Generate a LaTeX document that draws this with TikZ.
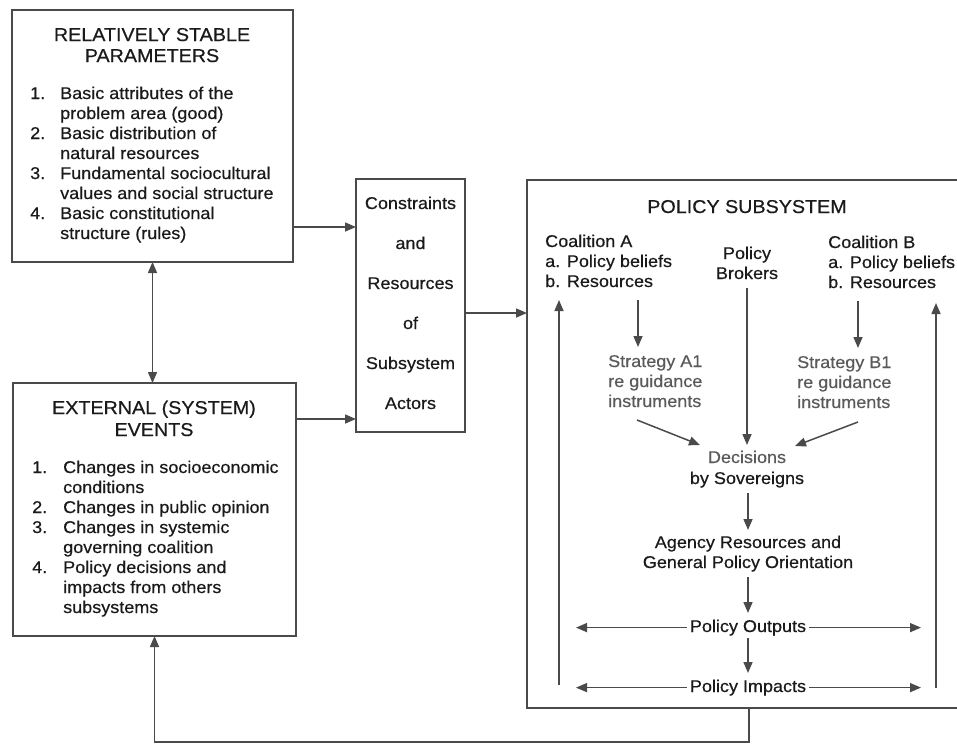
\documentclass[tikz,border=0pt]{standalone}
\usepackage{fontspec}
\setmainfont[FakeStretch=1.06,FakeBold=0.5]{Liberation Sans}
\usetikzlibrary{arrows.meta}
\definecolor{lncol}{HTML}{4A4A4A}
\definecolor{gtcol}{HTML}{5A5A5A}
\definecolor{txcol}{HTML}{1A1A1A}
\begin{document}
\begin{tikzpicture}[x=1pt,y=-1pt,
  box/.style={draw=lncol,line width=1.5pt,inner sep=0pt,outer sep=0pt},
  txt/.style={inner sep=0pt,anchor=base west,font=\fontsize{17}{20}\selectfont,text=txcol},
  ctxt/.style={txt,anchor=base},
  ttl/.style={inner sep=0pt,anchor=base,font=\fontsize{18.6}{22}\selectfont,text=txcol},
  gtxt/.style={txt,text=gtcol},
  gctxt/.style={ctxt,text=gtcol},
  arr/.style={draw=lncol,line width=1.5pt,-{Triangle[length=11pt,width=9pt]}},
  barr/.style={draw=lncol,line width=1.5pt,{Triangle[length=11pt,width=9pt]}-{Triangle[length=11pt,width=9pt]}},
  plainline/.style={draw=lncol,line width=1.5pt}]
\useasboundingbox (0,0) rectangle (957,744);

% ---------- boxes ----------
\node[box,minimum width=281pt,minimum height=252pt] (b1) at (152.5,136) {};
\node[box,minimum width=283pt,minimum height=253pt] (b2) at (154.5,509.5) {};
\node[box,minimum width=109pt,minimum height=253pt] (cr) at (410.5,305.5) {};
\node[box,minimum width=450pt,minimum height=528pt] (ps) at (752,444) {};

% ---------- box 1 ----------
\node[ttl] (t1a) at (152,41) {RELATIVELY STABLE};
\node[ttl] (t1b) at (152,62) {PARAMETERS};
\node[txt] (n11) at (30,99) {1.};
\node[txt] (l11) at (60,99) {Basic attributes of the};
\node[txt] (l12) at (60,119) {problem area (good)};
\node[txt] (n12) at (30,139) {2.};
\node[txt] (l13) at (60,139) {Basic distribution of};
\node[txt] (l14) at (60,159) {natural resources};
\node[txt] (n13) at (30,179) {3.};
\node[txt] (l15) at (60,179) {Fundamental sociocultural};
\node[txt] (l16) at (60,199) {values and social structure};
\node[txt] (n14) at (30,219) {4.};
\node[txt] (l17) at (60,219) {Basic constitutional};
\node[txt] (l18) at (60,239) {structure (rules)};

% ---------- box 2 ----------
\node[ttl] (t2a) at (154,414) {EXTERNAL (SYSTEM)};
\node[ttl] (t2b) at (154,436) {EVENTS};
\node[txt] (n21) at (32,473) {1.};
\node[txt] (l21) at (63,473) {Changes in socioeconomic};
\node[txt] (l22) at (63,493) {conditions};
\node[txt] (n22) at (32,513) {2.};
\node[txt] (l23) at (63,513) {Changes in public opinion};
\node[txt] (n23) at (32,533) {3.};
\node[txt] (l24) at (63,533) {Changes in systemic};
\node[txt] (l25) at (63,553) {governing coalition};
\node[txt] (n24) at (32,573) {4.};
\node[txt] (l26) at (63,573) {Policy decisions and};
\node[txt] (l27) at (63,593) {impacts from others};
\node[txt] (l28) at (63,613) {subsystems};

% ---------- constraints box ----------
\node[ctxt] (c1) at (410.5,209) {Constraints};
\node[ctxt] (c2) at (410.5,249) {and};
\node[ctxt] (c3) at (410.5,289) {Resources};
\node[ctxt] (c4) at (410.5,329) {of};
\node[ctxt] (c5) at (410.5,369) {Subsystem};
\node[ctxt] (c6) at (410.5,409) {Actors};

% ---------- policy subsystem ----------
\node[ttl] (pt) at (747,213) {POLICY SUBSYSTEM};
\node[txt] (ca1) at (545,247) {Coalition A};
\node[txt] (ca2) at (545,267) {a. Policy beliefs};
\node[txt] (ca3) at (545,287) {b. Resources};
\node[ctxt] (pb1) at (747,259) {Policy};
\node[ctxt] (pb2) at (747,279) {Brokers};
\node[txt] (cb1) at (828,248) {Coalition B};
\node[txt] (cb2) at (828,268) {a. Policy beliefs};
\node[txt] (cb3) at (828,288) {b. Resources};
\node[gtxt] (sa1) at (608,367) {Strategy A1};
\node[gtxt] (sa2) at (608,387) {re guidance};
\node[gtxt] (sa3) at (608,407) {instruments};
\node[gtxt] (sb1) at (797,368) {Strategy B1};
\node[gtxt] (sb2) at (797,388) {re guidance};
\node[gtxt] (sb3) at (797,408) {instruments};
\node[gctxt] (d1) at (747,463) {Decisions};
\node[ctxt] (d2) at (747,484) {by Sovereigns};
\node[ctxt] (ag1) at (748,548) {Agency Resources and};
\node[ctxt] (ag2) at (748,568) {General Policy Orientation};
\node[ctxt,inner xsep=3pt] (out) at (748,632) {Policy Outputs};
\node[ctxt,inner xsep=3pt] (imp) at (748,692) {Policy Impacts};

% ---------- coordinates ----------
\coordinate (y227) at (0,227);
\coordinate (y419) at (0,419);
\coordinate (y313) at (0,313);
\coordinate (fb) at (749,742);
\coordinate (xl) at (576,0);
\coordinate (xr) at (921,0);
\coordinate (caS) at (638,300);
\coordinate (caE) at (638,347);
\coordinate (pbS) at (747,288);
\coordinate (pbE) at (747,445);
\coordinate (cbS) at (858,301);
\coordinate (cbE) at (858,348);
\coordinate (saS) at (637,420);
\coordinate (saE) at (700,445);
\coordinate (sbS) at (858,422);
\coordinate (sbE) at (795,446);
\coordinate (dS) at (748,493);
\coordinate (dE) at (748,530);
\coordinate (agS) at (748,577);
\coordinate (agE) at (748,613);
\coordinate (oS) at (748,638);
\coordinate (oE) at (748,673);
\coordinate (lvS) at (559,685);
\coordinate (lvE) at (559,300);
\coordinate (rvS) at (936,688);
\coordinate (rvE) at (936,303);

% ---------- connectors ----------
\draw[barr] (b1.south) -- (b1.south |- b2.north);
\draw[arr] (b1.east |- y227) -- (cr.west |- y227);
\draw[arr] (b2.east |- y419) -- (cr.west |- y419);
\draw[arr] (cr.east |- y313) -- (ps.west |- y313);
\draw[arr] (ps.south -| fb) -- (fb) -- (fb -| b2.south) -- (b2.south);

\draw[arr] (caS) -- (caE);
\draw[arr] (pbS) -- (pbE);
\draw[arr] (cbS) -- (cbE);
\draw[arr] (saS) -- (saE);
\draw[arr] (sbS) -- (sbE);
\draw[arr] (dS) -- (dE);
\draw[arr] (agS) -- (agE);
\draw[arr] (oS) -- (oE);
\draw[arr] (out.west) -- (out.west -| xl);
\draw[arr] (out.east) -- (out.east -| xr);
\draw[arr] (imp.west) -- (imp.west -| xl);
\draw[arr] (imp.east) -- (imp.east -| xr);
\draw[arr] (lvS) -- (lvE);
\draw[arr] (rvS) -- (rvE);
\end{tikzpicture}
\end{document}
